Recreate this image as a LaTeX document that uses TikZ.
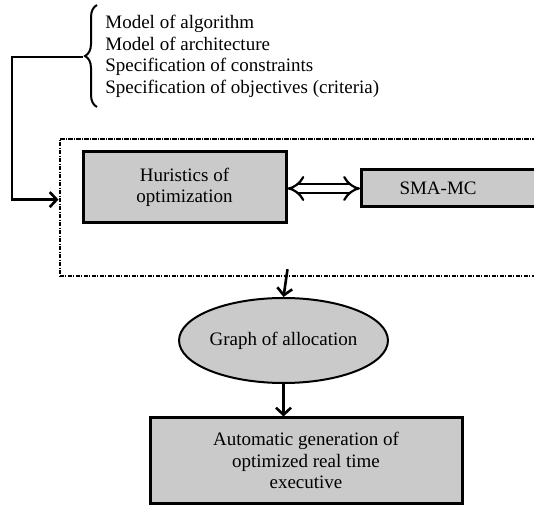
\documentclass[tikz,border=0pt]{standalone}
\usepackage{fontspec}
\setmainfont{Liberation Serif}
\usepackage{tikz}
\usetikzlibrary{positioning, arrows.meta, calc, shapes.geometric, decorations.pathreplacing}
\definecolor{boxgray}{HTML}{CACACA}

\begin{document}
\begin{tikzpicture}[
  x=0.5pt, y=-0.5pt,
  every node/.style={font=\fontsize{9.5}{10.8}\selectfont},
  block/.style={draw, line width=1.5pt, fill=boxgray, align=center, inner sep=0pt},
  frame/.style={draw, line width=1.1pt,
    dash pattern=on 2.2pt off 0.6pt on 0.6pt off 0.6pt, inner sep=0pt},
  oval/.style={draw, ellipse, line width=1pt, fill=boxgray, inner sep=0pt},
  arr/.style={-{Straight Barb[length=3.5pt, width=7.5pt]}, line width=1.3pt},
  dbl/.style={{Implies[scale=1.3]}-{Implies[scale=1.3]}, double,
    double distance=3.2pt, line width=1.1pt},
  brace/.style={decorate, decoration={brace, amplitude=6pt}, line width=1pt}
]
  \clip (0,0) rectangle (534,506);

  % Inputs
  \node[anchor=north west, align=left, inner sep=0pt] (inputs) at (105,15)
    {Model of algorithm\\Model of architecture\\Specification of constraints\\
     Specification of objectives (criteria)};
  \draw[brace] (97,107) -- (97,5);
  \coordinate (btip) at (83,57);
  \coordinate (corner) at (12,57);

  % Optimization frame
  \node[frame, anchor=north west, minimum width=251pt, minimum height=68.5pt]
    (opt) at (58.5,138) {};

  % Heuristics
  \node[block, minimum width=101.5pt, minimum height=35.5pt] (heur)
    at (184.5,187.5) {Huristics of\\optimization};

  % SMA-MC
  \node[block, anchor=west, minimum height=18.5pt, text width=52pt,
    align=left, inner xsep=19pt] (sma) at (360,188.5) {SMA-MC};

  % Graph of allocation
  \node[oval, minimum width=101.5pt, minimum height=42.5pt] (graph)
    at (283.5,340.5) {Graph of allocation};

  % Executive generation
  \node[block, minimum width=156pt, minimum height=42.5pt] (gen)
    at (306,460.5) {Automatic generation of\\optimized real time\\executive};

  % Arrows
  \draw[arr] (btip) -- (corner) |- ([yshift=4pt]opt.west);
  \draw[dbl] (heur.east |- sma.west) -- (sma.west);
  \draw[arr] ([yshift=4pt]heur.east |- opt.south) -- (graph.north);
  \draw[arr] (graph.south) -- (graph.south |- gen.north);
\end{tikzpicture}
\end{document}
